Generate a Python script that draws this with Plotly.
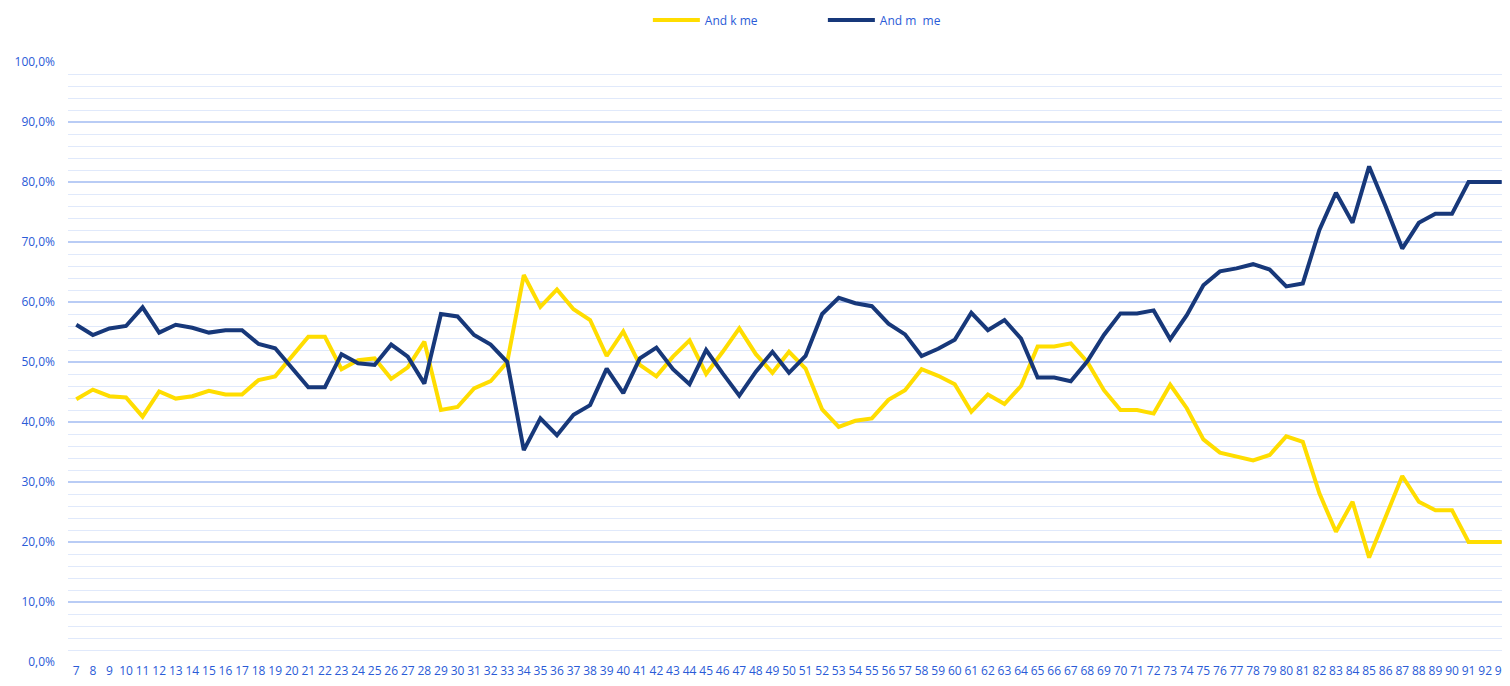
import plotly.graph_objects as go

categories = [str(a) for a in range(7, 94)]

andel_k = [43.8, 45.4, 44.3, 44.1, 40.9, 45.1, 43.9, 44.3, 45.2, 44.6,
           44.6, 47.0, 47.6, 50.9, 54.2, 54.2, 48.8, 50.3, 50.6, 47.2,
           49.1, 53.4, 42.0, 42.5, 45.6, 46.8, 50.0, 64.5, 59.2, 62.1,
           58.8, 57.0, 51.0, 55.1, 49.5, 47.6, 50.9, 53.6, 48.0, 51.7,
           55.6, 51.3, 48.2, 51.7, 48.9, 42.1, 39.2, 40.2, 40.6, 43.7,
           45.3, 48.8, 47.7, 46.3, 41.7, 44.6, 43.0, 46.0, 52.6, 52.6,
           53.1, 50.0, 45.3, 42.0, 42.0, 41.4, 46.2, 42.3, 37.1, 34.9,
           34.3, 33.6, 34.5, 37.6, 36.7, 28.1, 21.7, 26.7, 17.4, 24.2,
           31.0, 26.7, 25.3, 25.3, 20.0, 20.0, 20.0]

andel_m = [56.2, 54.5, 55.6, 56.0, 59.1, 54.9, 56.2, 55.7, 54.9, 55.3,
           55.3, 53.0, 52.3, 49.1, 45.8, 45.8, 51.3, 49.8, 49.5, 52.9,
           50.9, 46.4, 58.0, 57.6, 54.5, 52.9, 50.0, 35.3, 40.6, 37.8,
           41.2, 42.8, 48.9, 44.8, 50.6, 52.4, 48.8, 46.3, 52.0, 48.1,
           44.4, 48.4, 51.7, 48.2, 51.0, 58.0, 60.7, 59.8, 59.3, 56.4,
           54.6, 51.0, 52.2, 53.7, 58.2, 55.3, 57.0, 53.9, 47.4, 47.4,
           46.8, 50.1, 54.5, 58.1, 58.1, 58.6, 53.8, 57.8, 62.8, 65.1,
           65.6, 66.3, 65.4, 62.6, 63.1, 72.0, 78.2, 73.2, 82.6, 75.9,
           68.9, 73.2, 74.7, 74.7, 80.0, 80.0, 80.0]

series_names = ["And k me", "And m\u00a0\u00a0me"]
y_tickvals = [0, 10, 20, 30, 40, 50, 60, 70, 80, 90, 100]
y_ticktext = ["0,0%", "10,0%", "20,0%", "30,0%", "40,0%", "50,0%",
              "60,0%", "70,0%", "80,0%", "90,0%", "100,0%"]

YELLOW = "#FFDD00"
NAVY = "#17387A"
LABEL = "#2A5BD7"

W, H = 1502, 678

fig = go.Figure()
fig.add_trace(go.Scatter(x=categories, y=andel_k, mode="lines", name=series_names[0],
                         line=dict(color=YELLOW, width=4)))
fig.add_trace(go.Scatter(x=categories, y=andel_m, mode="lines", name=series_names[1],
                         line=dict(color=NAVY, width=4)))

fig.update_layout(
    width=W, height=H,
    margin=dict(l=60, r=0, t=54, b=24, autoexpand=False),
    paper_bgcolor="white", plot_bgcolor="white",
    font=dict(family="Liberation Sans Narrow, Open Sans, sans-serif", size=11, color=LABEL),
    showlegend=True,
    legend=dict(orientation="h", x=604 / W, xanchor="left", y=1 - 12 / H,
                yref="container", yanchor="middle", font=dict(size=12, color=LABEL),
                itemwidth=47, entrywidth=113, entrywidthmode="pixels",
                bgcolor="rgba(0,0,0,0)"),
    xaxis=dict(type="category", range=[-0.5, len(categories) - 0.5],
               showgrid=False, zeroline=False, showline=False, ticks="",
               tickangle=0, ticklabeloverflow="allow",
               tickfont=dict(size=12, color=LABEL)),
    yaxis=dict(range=[0, 100], tickvals=y_tickvals, ticktext=y_ticktext,
               showgrid=True, gridcolor="#B9CCF5", gridwidth=1.5,
               zeroline=False, showline=False, ticks="",
               ticklabelstandoff=12,
               tickfont=dict(size=12, color=LABEL),
               minor=dict(dtick=2, showgrid=True, gridcolor="#E0E9FB", gridwidth=1)),
)

fig.write_html("out.html")
